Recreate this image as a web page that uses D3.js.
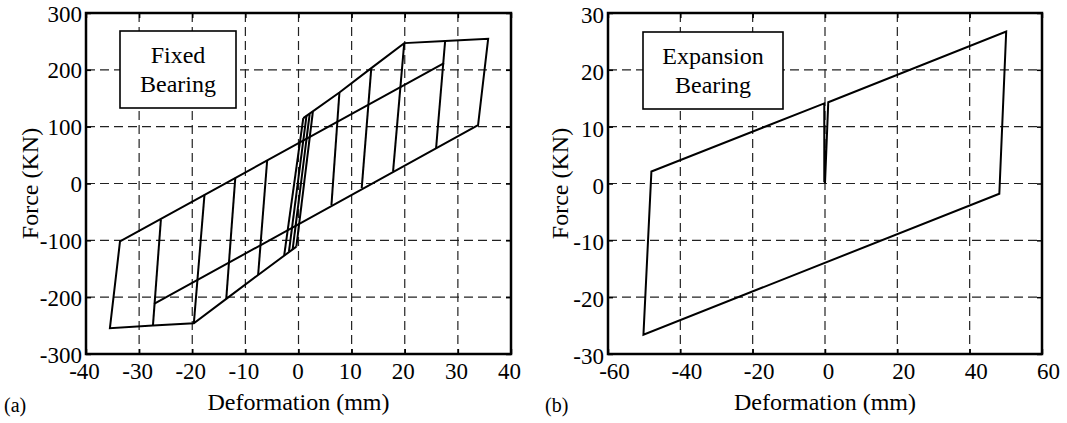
<!DOCTYPE html>
<html>
<head>
<meta charset="utf-8">
<script src="https://cdn.jsdelivr.net/npm/d3@7"></script>
<style>
  html, body { margin: 0; padding: 0; background: #fff; }
  svg { display: block; }
</style>
</head>
<body>
<svg id="chart" width="1067" height="423"></svg>
<script>
// ---------------- data ----------------
const fixedTicksX = [-40, -30, -20, -10, 0, 10, 20, 30, 40];
const fixedTicksY = [-300, -200, -100, 0, 100, 200, 300];
const expTicksX = [-60, -40, -20, 0, 20, 40, 60];
const expTicksY = [-30, -20, -10, 0, 10, 20, 30];

// Fixed bearing: upper envelope -> right side -> descending branch
const fixedUpperBranch = [[0.9, 115], [7.7, 160], [13.7, 203], [19.9, 247], [27.6, 250.7], [35.7, 254.5], [33.8, 102.8], [-27.2, -212]];
// Fixed bearing: lower envelope -> left side -> ascending branch
const fixedLowerBranch = [[-0.4, -111], [-7.6, -161], [-13.6, -203], [-19.7, -246], [-27.4, -250], [-35.5, -254.6], [-33.6, -102], [27.4, 212]];
// Fixed bearing: steep unloading / reloading segments
const fixedReversals = [
  [[27.6, 250.7], [25.9, 62.5]],
  [[19.9, 247], [17.8, 21]],
  [[13.7, 203], [11.9, -8]],
  [[7.7, 160], [6.2, -38]],
  [[0.9, 115], [-2.7, -127]],
  [[1.5, 119], [-1.8, -120]],
  [[2.1, 122], [-1.1, -116]],
  [[2.7, 126], [-0.4, -111]],
  [[-5.9, 40.5], [-7.6, -161]],
  [[-11.9, 10], [-13.6, -203]],
  [[-17.7, -20], [-19.7, -246]],
  [[-25.9, -63], [-27.4, -250]]
];

// Expansion bearing: single loop
const expansionPath = [[0, 0], [0.9, 14.3], [50.1, 26.75], [48.2, -1.8], [-50.2, -26.6], [-48.0, 2.1], [-0.2, 14.1], [-0.2, 0.2]];

const panelLabels = ["(a)", "(b)"];
const boxTexts = [["Fixed", "Bearing"], ["Expansion", "Bearing"]];
const xTitle = "Deformation (mm)";
const yTitle = "Force (KN)";

// ---------------- drawing ----------------
const FONT = "'Liberation Serif', 'Times New Roman', Times, 'DejaVu Serif', serif";
const svg = d3.select("#chart").attr("font-family", FONT);
svg.append("rect").attr("width", 1067).attr("height", 423).attr("fill", "#fff");

function txt(sel, size) {
  return sel.style("font-family", FONT).style("font-size", size + "px").attr("fill", "#000");
}

function drawPanel(cfg) {
  const x = d3.scaleLinear().domain(cfg.xDomain).range([cfg.left, cfg.right]);
  const y = d3.scaleLinear().domain(cfg.yDomain).range([cfg.bottom, cfg.top]);
  const g = svg.append("g");

  // dashed grid
  const gx = cfg.ticksX.slice(1, -1), gy = cfg.ticksY.slice(1, -1);
  g.selectAll(".vg").data(gx).join("line")
    .attr("x1", d => x(d)).attr("x2", d => x(d))
    .attr("y1", cfg.top).attr("y2", cfg.bottom)
    .attr("stroke", "#222").attr("stroke-width", 1.2).attr("stroke-dasharray", "9,5");
  g.selectAll(".hg").data(gy).join("line")
    .attr("y1", d => y(d)).attr("y2", d => y(d))
    .attr("x1", cfg.left).attr("x2", cfg.right)
    .attr("stroke", "#222").attr("stroke-width", 1.2).attr("stroke-dasharray", "9,5");

  // axes (inward ticks)
  const fs = 23;
  const fmt = d => String(d);
  const ax = g.append("g").attr("transform", `translate(0,${cfg.bottom})`)
    .call(d3.axisBottom(x).tickValues(cfg.ticksX).tickSize(-5).tickPadding(0).tickFormat(fmt));
  const ay = g.append("g").attr("transform", `translate(${cfg.left},0)`)
    .call(d3.axisLeft(y).tickValues(cfg.ticksY).tickSize(-5).tickPadding(0).tickFormat(fmt));
  g.append("g").attr("transform", `translate(0,${cfg.top})`)
    .call(d3.axisTop(x).tickValues(cfg.ticksX).tickSize(-5).tickFormat(""));
  g.append("g").attr("transform", `translate(${cfg.right},0)`)
    .call(d3.axisRight(y).tickValues(cfg.ticksY).tickSize(-5).tickFormat(""));
  g.selectAll("g").attr("font-family", FONT);
  g.selectAll(".domain").remove();
  g.selectAll(".tick line").attr("stroke", "#000").attr("stroke-width", 1.5);
  txt(ax.selectAll("text").attr("y", 25).attr("dy", 0)
    .attr("x", d => cfg.xLabelShift * (String(d).length > 1 ? 1 : 0.5)), fs);
  txt(ay.selectAll("text").attr("x", -4).attr("dy", cfg.yLabelDy), fs);

  // data lines
  const line = d3.line().x(d => x(d[0])).y(d => y(d[1]));
  g.selectAll(".series").data(cfg.series).join("path")
    .attr("d", line).attr("fill", "none").attr("stroke", "#000")
    .attr("stroke-width", 2).attr("stroke-linejoin", "miter");

  // frame
  g.append("rect").attr("x", cfg.left).attr("y", cfg.top)
    .attr("width", cfg.right - cfg.left).attr("height", cfg.bottom - cfg.top)
    .attr("fill", "none").attr("stroke", "#000").attr("stroke-width", 2.5);

  // label box
  g.append("rect").attr("x", cfg.box[0]).attr("y", cfg.box[1])
    .attr("width", cfg.box[2]).attr("height", cfg.box[3])
    .attr("fill", "#fff").attr("stroke", "#000").attr("stroke-width", 1.6);
  const bcx = cfg.box[0] + cfg.box[2] / 2;
  cfg.boxText.forEach((t, i) => {
    txt(g.append("text").attr("x", bcx).attr("y", cfg.box[1] + 32 + i * 29)
      .attr("text-anchor", "middle").text(t), 24);
  });

  // titles
  txt(g.append("text").attr("x", (cfg.left + cfg.right) / 2).attr("y", 410)
    .attr("text-anchor", "middle").text(xTitle), 24);
  txt(g.append("text").attr("transform", `translate(${cfg.yTitleX},${(cfg.top + cfg.bottom) / 2}) rotate(-90)`)
    .attr("text-anchor", "middle").text(yTitle), 24);
  txt(g.append("text").attr("x", cfg.panelX).attr("y", 412).text(cfg.panelLabel), 20);
}

drawPanel({
  left: 86, right: 511, top: 13, bottom: 354,
  xDomain: [-40, 40], yDomain: [-300, 300],
  ticksX: fixedTicksX, ticksY: fixedTicksY,
  series: [fixedUpperBranch, fixedLowerBranch, ...fixedReversals],
  box: [120, 31, 116, 77], boxText: boxTexts[0],
  yTitleX: 38, panelX: 4, panelLabel: panelLabels[0],
  xLabelShift: -2, yLabelDy: 8
});

drawPanel({
  left: 608, right: 1042, top: 13, bottom: 354,
  xDomain: [-60, 60], yDomain: [-30, 30],
  ticksX: expTicksX, ticksY: expTicksY,
  series: [expansionPath],
  box: [643, 32, 140, 77], boxText: boxTexts[1],
  yTitleX: 568, panelX: 545, panelLabel: panelLabels[1],
  xLabelShift: 6, yLabelDy: 9.5
});
</script>
</body>
</html>
